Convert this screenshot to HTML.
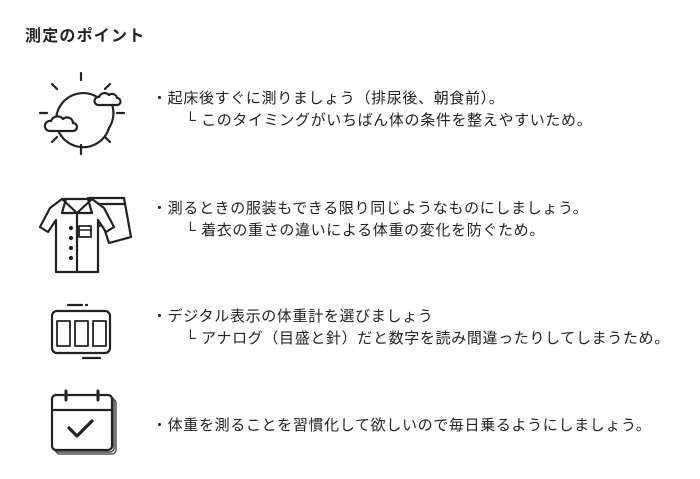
<!DOCTYPE html>
<html><head><meta charset="utf-8"><style>
body{margin:0;width:700px;height:479px;background:#fff;position:relative;overflow:hidden;font-family:"Liberation Sans","Noto Sans CJK JP",sans-serif;color:#222}
.t{position:absolute;font-size:15px;letter-spacing:0.65px;white-space:nowrap;line-height:20px}
h1{position:absolute;left:25px;top:22px;margin:0;font-size:16px;font-weight:bold;letter-spacing:1.2px}
svg{position:absolute;left:0;top:0}
</style></head><body>
<h1>測定のポイント</h1>
<svg width="700" height="479" fill="none" stroke="#222" stroke-width="2.2" stroke-linecap="round" stroke-linejoin="round">
<path d="M100 99 A27 27 0 1 0 109 128"/>
<path d="M109 128 A27 27 0 0 0 110 100"/>
<line x1="81" y1="73" x2="81" y2="80"/><line x1="81" y1="145" x2="81" y2="154"/>
<line x1="40" y1="113" x2="47" y2="113"/><line x1="117" y1="113" x2="124" y2="113"/>
<line x1="52" y1="84" x2="57" y2="89"/><line x1="110" y1="84" x2="105" y2="89"/>
<line x1="52" y1="142" x2="57" y2="137"/><line x1="110" y1="142" x2="105" y2="137"/>
<path d="M49 131 h24 a4 4 0 0 0 0 -8 a6 6 0 0 0 -10 -4 a7 7 0 0 0 -12 2 a5 5 0 0 0 -2 10z" fill="#fff"/>
<path d="M98 105 h19 a3.5 3.5 0 0 0 0 -7 a5 5 0 0 0 -8 -3 a6 6 0 0 0 -10 2 a4 4 0 0 0 -1 8z" fill="#fff"/>
<path d="M88 198 h36 l7 39 l-22 6 l-6 -18 l-10 2z"/>
<line x1="89" y1="204" x2="125" y2="204"/>
<path d="M62 199 l-12 9 l-10 19 l8 5 l8 -12 v52 h42 v-52 l8 12 l8 -5 l-10 -19 l-12 -9 z" fill="#fff"/>
<path d="M62 199 l15 14 l15 -14 M66 199 l-4 14 l15 0 M88 199 l4 14 l-15 0 M77 213 v58"/>
<rect x="79" y="226" width="12" height="11" stroke-width="1.8"/>
<line x1="79" y1="230" x2="91" y2="230" stroke-width="1.5"/>
<circle cx="71" cy="228" r="1" fill="#222"/><circle cx="71" cy="238" r="1" fill="#222"/><circle cx="71" cy="248" r="1" fill="#222"/><circle cx="71" cy="258" r="1" fill="#222"/>
<rect x="52" y="311" width="58" height="42" rx="5"/>
<line x1="68" y1="305" x2="82" y2="305"/><line x1="86" y1="305" x2="87" y2="305"/>
<line x1="83" y1="358" x2="100" y2="358"/>
<path d="M57 337 v-16 h13 v16 M57 337 v9 h13 v-9 M75 337 v-16 h13 v16 M75 337 v9 h13 v-9 M93 337 v-16 h13 v16 M93 337 v9 h13 v-9" stroke-width="1.8"/>
<rect x="56" y="399" width="60" height="55" rx="4" stroke="#555" stroke-width="1.5"/>
<rect x="54" y="397" width="60" height="55" rx="4" stroke="#444" stroke-width="1.5" fill="#fff"/>
<rect x="52" y="395" width="60" height="55" rx="4" fill="#fff"/>
<line x1="52" y1="410" x2="112" y2="410"/>
<line x1="66" y1="391" x2="66" y2="400" stroke-width="3"/><line x1="98" y1="391" x2="98" y2="400" stroke-width="3"/>
<path d="M69 428 l8 8 l15 -15" stroke-width="3.2"/>
</svg>
<div class="t" style="left:152px;top:89px">・起床後すぐに測りましょう（排尿後、朝食前）。</div>
<div class="t" style="left:185px;top:111px">└ このタイミングがいちばん体の条件を整えやすいため。</div>
<div class="t" style="left:152px;top:199px">・測るときの服装もできる限り同じようなものにしましょう。</div>
<div class="t" style="left:185px;top:221px">└ 着衣の重さの違いによる体重の変化を防ぐため。</div>
<div class="t" style="left:152px;top:307px">・デジタル表示の体重計を選びましょう</div>
<div class="t" style="left:185px;top:329px">└ アナログ（目盛と針）だと数字を読み間違ったりしてしまうため。</div>
<div class="t" style="left:152px;top:416px">・体重を測ることを習慣化して欲しいので毎日乗るようにしましょう。</div>
</body></html>
